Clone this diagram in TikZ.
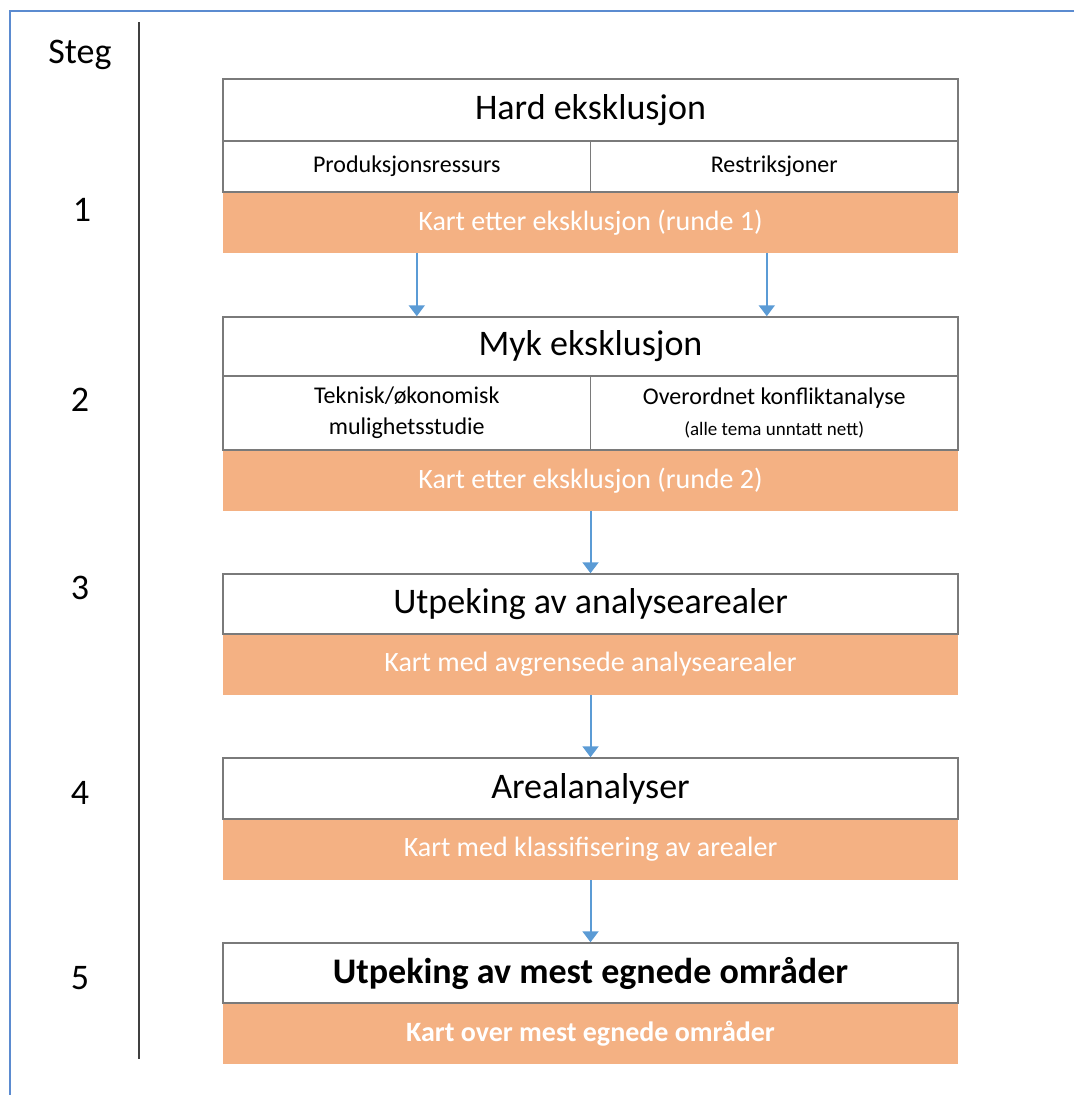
\documentclass[tikz,border=0pt]{standalone}
\usepackage{fontspec}
\setmainfont{Carlito}
\usetikzlibrary{arrows.meta,calc}

\definecolor{resultfill}{HTML}{F4B183}
\definecolor{flowblue}{HTML}{5B9BD5}
\definecolor{frameblue}{HTML}{5B8BD0}
\definecolor{boxgray}{HTML}{7A7A7A}

\begin{document}
\begin{tikzpicture}[x=1pt,y=-1pt,
  head/.style={draw=boxgray,line width=1.5pt,fill=white,minimum width=735pt,minimum height=61pt,inner sep=0pt,font=\fontsize{36}{40}\selectfont},
  cell/.style={draw=boxgray,line width=1.5pt,fill=white,minimum width=367.5pt,inner sep=0pt,align=center,font=\fontsize{24}{31}\selectfont},
  result/.style={fill=resultfill,text=white,minimum width=735pt,minimum height=61pt,inner sep=0pt,font=\fontsize{28}{32}\selectfont},
  flow/.style={draw=flowblue,line width=2pt,-{Triangle[width=16pt,length=11pt]}},
  stepnum/.style={font=\fontsize{36}{40}\selectfont}]
\useasboundingbox (0,0) rectangle (1074,1095);

% Frame and step column
\draw[frameblue,line width=2.5pt] (1074,11) -- (10,11) -- (10,1095);
\draw[black!75,line width=2.5pt] (139,22) -- (139,1059);
\node[stepnum] (steg) at (80,55) {Steg};
\node[stepnum] (s1) at (82,210) {1};
\node[stepnum] (s2) at (80,400) {2};
\node[stepnum] (s3) at (80,588) {3};
\node[stepnum] (s4) at (80,793) {4};
\node[stepnum] (s5) at (80,978) {5};

%Step 1: hard exclusion
\node[result] (kart1) at (590.5,222.5) {Kart etter eksklusjon (runde 1)};
\node[head,minimum height=62pt] (hard) at (590.5,110) {Hard eksklusjon};
\node[cell,minimum height=51pt] (prod) at (406.75,166.5) {Produksjonsressurs};
\node[cell,minimum height=51pt] (restr) at (774.25,166.5) {Restriksjoner};

%Step 2: soft exclusion
\node[result] (kart2) at (590.5,480.5) {Kart etter eksklusjon (runde 2)};
\node[head,minimum height=59pt] (myk) at (590.5,346.5) {Myk eksklusjon};
\node[cell,minimum height=74pt] (tek) at (406.75,413) {Teknisk/økonomisk\\mulighetsstudie};
\node[cell,minimum height=74pt] (konf) at (774.25,413) {Overordnet konfliktanalyse\\{\fontsize{19}{22}\selectfont (alle tema unntatt nett)}};

%Step 3 to 5
\node[result] (kart3) at (590.5,664.5) {Kart med avgrensede analysearealer};
\node[head,minimum height=60pt] (utp) at (590.5,604) {Utpeking av analysearealer};
\node[result] (kart4) at (590.5,849.5) {Kart med klassifisering av arealer};
\node[head] (areal) at (590.5,788.5) {Arealanalyser};
\node[result,font=\fontsize{28}{32}\selectfont\bfseries] (kart5) at (590.5,1033.5) {Kart over mest egnede områder};
\node[head,minimum height=60pt,font=\fontsize{36}{40}\selectfont\bfseries] (egnet) at (590.5,973) {Utpeking av mest egnede områder};

% Flow arrows
\coordinate (outL) at ([xshift=194pt]kart1.south west);
\coordinate (outR) at ([xshift=544pt]kart1.south west);
\draw[flow] (outL) -- (outL |- myk.north);
\draw[flow] (outR) -- (outR |- myk.north);
\draw[flow] (kart2.south) -- (utp.north);
\draw[flow] (kart3.south) -- (areal.north);
\draw[flow] (kart4.south) -- (egnet.north);

\end{tikzpicture}
\end{document}
